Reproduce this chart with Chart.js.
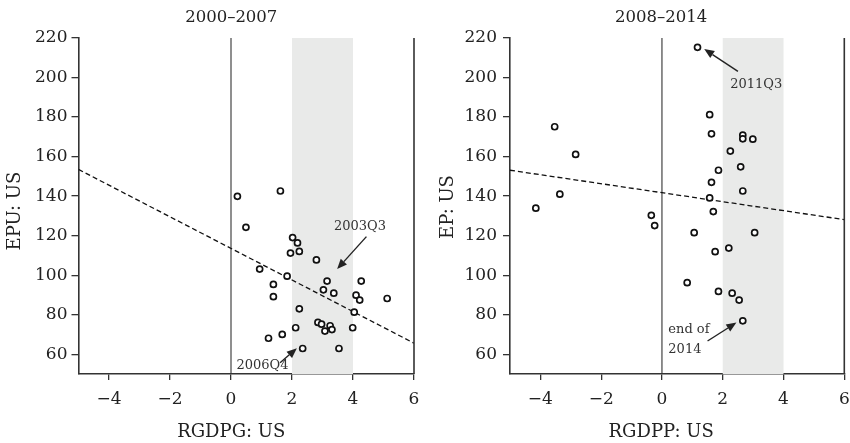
<!DOCTYPE html>
<html><head><meta charset="utf-8">
<script src="https://cdn.jsdelivr.net/npm/chart.js@4.4.1/dist/chart.umd.min.js"></script>
<style>
html,body{margin:0;padding:0;background:#fff;}
#wrap{display:flex;width:850px;height:443px;}
canvas{display:block;}
</style></head><body>
<div id="wrap"><canvas id="c1" width="425" height="443"></canvas><canvas id="c2" width="425" height="443"></canvas></div>
<script>
// ---- data ----
const xTicks = [-4, -2, 0, 2, 4, 6];
const yTicks = [60, 80, 100, 120, 140, 160, 180, 200, 220];

const leftX = [0.21,1.62,0.49,2.02,2.18,1.95,2.24,2.80,0.94,1.84,1.39,3.15,4.27,3.03,3.37,1.39,4.10,4.22,5.12,2.24,4.04,2.85,2.97,2.12,3.25,3.31,3.08,3.99,1.23,1.68,2.35,3.54];
const leftY = [139.9,142.6,124.2,119.0,116.3,111.2,112.0,107.7,103.1,99.5,95.3,97.0,97.0,92.6,90.9,89.1,89.9,87.4,88.2,83.0,81.3,76.1,75.2,73.4,74.4,72.5,71.7,73.4,68.1,70.0,62.9,62.9];

const rightX = [1.17,1.57,-3.53,1.63,2.66,2.66,2.99,2.25,-2.84,2.59,1.86,1.63,2.66,-3.36,1.57,-4.15,1.69,-0.35,-0.24,1.06,3.05,2.20,1.75,0.83,1.86,2.31,2.54,2.66];
const rightY = [215.3,181.2,175.1,171.5,170.9,169.0,168.8,162.8,161.1,154.8,153.1,147.0,142.6,141.0,139.1,133.9,132.2,130.3,125.1,121.5,121.5,113.7,111.9,96.2,91.8,90.9,87.4,76.9];

const leftFitX = [-5, 6];
const leftFitY = [153.5, 65.6];
const rightFitX = [-5, 6];
const rightFitY = [153.1, 128.1];

const bandRange = [2, 4];

const leftNotes = [
  {text: '2003Q3', x: 4.23, y: 124.5, align: 'center'},
  {text: '2006Q4', x: 1.03, y: 54.4, align: 'center'}
];
const leftArrows = [
  {from: [4.44, 119.5], to: [3.48, 103.1]},
  {from: [1.61, 55.7], to: [2.16, 63.0]}
];
const rightNotes = [
  {text: '2011Q3', x: 3.10, y: 196.4, align: 'center'},
  {text: 'end of', x: 0.21, y: 72.2, align: 'left'},
  {text: '2014', x: 0.21, y: 62.5, align: 'left'}
];
const rightArrows = [
  {from: [2.50, 203.1], to: [1.39, 214.4]},
  {from: [1.50, 66.7], to: [2.45, 76.0]}
];

// ---- rendering ----
const FONT = "'DejaVu Serif', serif";
Chart.defaults.font.family = FONT;
Chart.defaults.color = '#222';

function pts(xs, ys) { return xs.map((x, i) => ({x: x, y: ys[i]})); }

function drawArrow(ctx, x1, y1, x2, y2) {
  const a = Math.atan2(y2 - y1, x2 - x1), L = 10, W = 4.2;
  const bx = x2 - L * Math.cos(a), by = y2 - L * Math.sin(a);
  ctx.beginPath(); ctx.moveTo(x1, y1); ctx.lineTo(bx, by); ctx.stroke();
  ctx.beginPath(); ctx.moveTo(x2, y2);
  ctx.lineTo(bx + W * Math.sin(a), by - W * Math.cos(a));
  ctx.lineTo(bx - W * Math.sin(a), by + W * Math.cos(a));
  ctx.closePath(); ctx.fill();
}

const panelPlugin = {
  id: 'panel',
  beforeDatasetsDraw(chart, args, o) {
    const {ctx, chartArea: ca, scales: {x, y}} = chart;
    ctx.save();
    ctx.fillStyle = '#e9eae9';
    const bx1 = x.getPixelForValue(bandRange[0]), bx2 = x.getPixelForValue(bandRange[1]);
    ctx.fillRect(bx1, ca.top, bx2 - bx1, ca.bottom - ca.top);
    ctx.strokeStyle = '#333'; ctx.lineWidth = 1.1;
    const zx = x.getPixelForValue(0);
    ctx.beginPath(); ctx.moveTo(zx, ca.top); ctx.lineTo(zx, ca.bottom); ctx.stroke();
    ctx.restore();
  },
  afterDatasetsDraw(chart, args, o) {
    const {ctx, chartArea: ca, scales: {x, y}} = chart;
    ctx.save();
    ctx.strokeStyle = '#333'; ctx.lineWidth = 1.6;
    const rx = x.getPixelForValue(x.max);
    ctx.beginPath(); ctx.moveTo(rx, ca.top); ctx.lineTo(rx, ca.bottom); ctx.stroke();
    ctx.strokeStyle = '#222'; ctx.fillStyle = '#222'; ctx.lineWidth = 1.4;
    o.arrows.forEach(a => drawArrow(ctx, x.getPixelForValue(a.from[0]), y.getPixelForValue(a.from[1]),
                                    x.getPixelForValue(a.to[0]), y.getPixelForValue(a.to[1])));
    ctx.fillStyle = '#333';
    ctx.font = '13px ' + FONT;
    ctx.textBaseline = 'middle';
    o.notes.forEach(n => {
      ctx.textAlign = n.align;
      ctx.fillText(n.text, x.getPixelForValue(n.x), y.getPixelForValue(n.y));
    });
    ctx.restore();
  },
  afterDraw(chart, args, o) {
    const {ctx, chartArea: ca} = chart;
    const cx = (ca.left + ca.right) / 2 + o.titleShift;
    ctx.save();
    ctx.fillStyle = '#222';
    ctx.textAlign = 'center';
    ctx.textBaseline = 'alphabetic';
    ctx.font = '16.5px ' + FONT;
    ctx.fillText(o.title, cx, 21.5);
    ctx.font = '18px ' + FONT;
    ctx.fillText(o.xTitle, cx, 436.5);
    ctx.translate(o.yTitleX, o.yTitleY);
    ctx.rotate(-Math.PI / 2);
    ctx.textBaseline = 'middle';
    ctx.fillText(o.yTitle, 0, 0);
    ctx.restore();
  }
};

function makeChart(id, xs, ys, fx, fy, cfg) {
  return new Chart(document.getElementById(id), {
    data: {
      datasets: [
        {type: 'scatter', data: pts(xs, ys), pointRadius: 3, pointBorderWidth: 1.7,
         pointBorderColor: '#111', pointBackgroundColor: '#fff', order: 0},
        {type: 'line', data: pts(fx, fy), borderColor: '#111', borderWidth: 1.3,
         borderDash: [5, 3], pointRadius: 0, fill: false, order: 1}
      ]
    },
    options: {
      responsive: false, animation: false, devicePixelRatio: 1,
      layout: {padding: {top: 38, right: cfg.padRight, left: 0, bottom: 0}},
      plugins: {legend: {display: false}, tooltip: {enabled: false},
        panel: {title: cfg.title, xTitle: cfg.xTitle, yTitle: cfg.yTitle, notes: cfg.notes,
                arrows: cfg.arrows, titleShift: cfg.titleShift, yTitleX: cfg.yTitleX, yTitleY: cfg.yTitleY}},
      scales: {
        x: {type: 'linear', min: -5, max: 6,
            afterBuildTicks: s => { s.ticks = xTicks.map(v => ({value: v})); },
            afterFit: s => { s.height = 69; s.paddingLeft = 0; s.paddingRight = 0; },
            border: {display: true, color: '#333', width: 1.6},
            grid: {display: true, drawOnChartArea: false, drawTicks: true, tickLength: 6, color: '#333', lineWidth: 1.3},
            ticks: {font: {size: 17}, padding: 9, color: '#222',
                    callback: v => (v < 0 ? '\u2212' + Math.abs(v) : String(v))}},
        y: {type: 'linear', min: 50, max: 220,
            afterBuildTicks: s => { s.ticks = yTicks.map(v => ({value: v})); },
            afterFit: s => { s.width = cfg.yWidth; s.paddingTop = 0; s.paddingBottom = 0; },
            border: {display: true, color: '#333', width: 1.6},
            grid: {display: true, drawOnChartArea: false, drawTicks: true, tickLength: 7, color: '#333', lineWidth: 1.3},
            ticks: {font: {size: 17}, padding: cfg.yPad, color: '#222'}}
      }
    },
    plugins: [panelPlugin]
  });
}

makeChart('c1', leftX, leftY, leftFitX, leftFitY, {
  title: '2000\u20132007', xTitle: 'RGDPG: US', yTitle: 'EPU: US',
  notes: leftNotes, arrows: leftArrows, padRight: 11, yWidth: 78.5, yPad: 4,
  titleShift: -15, yTitleX: 15.5, yTitleY: 211
});
makeChart('c2', rightX, rightY, rightFitX, rightFitY, {
  title: '2008\u20132014', xTitle: 'RGDPP: US', yTitle: 'EP: US',
  notes: rightNotes, arrows: rightArrows, padRight: 4, yWidth: 85, yPad: 6,
  titleShift: -16, yTitleX: 23, yTitleY: 207
});
</script>
</body></html>
